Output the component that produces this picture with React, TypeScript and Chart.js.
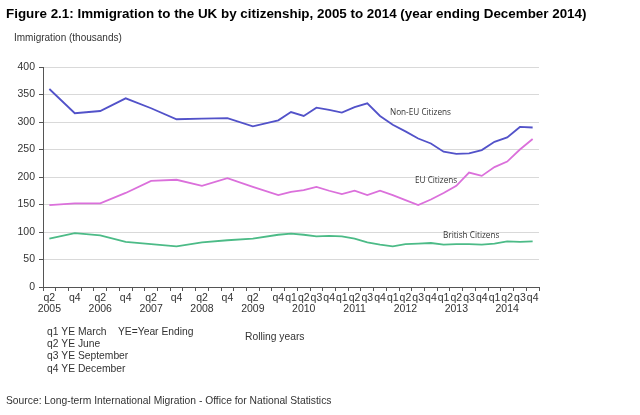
import React, { useEffect, useRef } from "react";
import { Chart, registerables } from "chart.js";

Chart.register(...registerables);

// Quarterly categories, 2005 q2 .. 2014 q4 (only q2/q4 shown before q4 2009)
const quarterLabels = [
  "q2", "", "q4", "", "q2", "", "q4", "", "q2", "", "q4", "", "q2", "", "q4", "", "q2", "", "q4",
  "q1", "q2", "q3", "q4", "q1", "q2", "q3", "q4", "q1", "q2", "q3", "q4", "q1", "q2", "q3", "q4",
  "q1", "q2", "q3", "q4",
];
const yearLabels = [
  "2005", "", "", "", "2006", "", "", "", "2007", "", "", "", "2008", "", "", "", "2009", "", "",
  "", "2010", "", "", "", "2011", "", "", "", "2012", "", "", "", "2013", "", "", "", "2014", "", "",
];

const nonEU = [
  360, null, 316, null, 320, null, 343, null, 325, null, 305, null, 306, null, 307, null, 292, null, 303,
  318, 311, 326, 322, 317, 327, 334, 311, 295, 283, 270, 261, 246, 242, 243, 249, 264, 272, 291, 290,
];
const eu = [
  149, null, 152, null, 152, null, 171, null, 193, null, 195, null, 184, null, 198, null, 182, null, 167,
  173, 176, 182, 175, 169, 175, 167, 175, 167, 158, 149, 159, 171, 184, 208, 202, 218, 228, 250, 269,
];
const british = [
  88, null, 98, null, 94, null, 82, null, 78, null, 74, null, 81, null, 85, null, 88, null, 95,
  97, 95, 92, 93, 92, 88, 81, 77, 74, 78, 79, 80, 77, 78, 78, 77, 79, 83, 82, 83,
];

const seriesNames = ["Non-EU Citizens", "EU Citizens", "British Citizens"];
const yTicks = [0, 50, 100, 150, 200, 250, 300, 350, 400];

const title = "Figure 2.1: Immigration to the UK by citizenship, 2005 to 2014 (year ending December 2014)";
const yAxisTitle = "Immigration (thousands)";
const notes = ["q1 YE March", "q2 YE June", "q3 YE September", "q4 YE December"];
const noteExtra = "YE=Year Ending";
const xAxisTitle = "Rolling years";
const source = "Source: Long-term International Migration - Office for National Statistics";

const FONT = "'Liberation Sans', Arial, sans-serif";

const textPlugin = {
  id: "texts",
  afterDraw(chart: any) {
    const ctx = chart.ctx;
    ctx.save();
    ctx.textBaseline = "middle";
    ctx.textAlign = "left";
    ctx.fillStyle = "#000";
    ctx.font = `bold 13.4px ${FONT}`;
    ctx.fillText(title, 6, 14);
    ctx.fillStyle = "#333";
    ctx.font = `10px ${FONT}`;
    ctx.fillText(yAxisTitle, 14, 38);
    ctx.font = `10.3px ${FONT}`;
    notes.forEach((n, i) => ctx.fillText(n, 47, 332 + i * 12.3));
    ctx.fillText(noteExtra, 118, 332);
    ctx.fillText(xAxisTitle, 245, 337);
    ctx.fillText(source, 6, 401);
    // series annotations
    ctx.font = `8.2px 'Open Sans', ${FONT}`;
    ctx.fillStyle = "#333";
    ctx.fillText(seriesNames[0], 390, 113);
    ctx.fillText(seriesNames[1], 415, 181);
    ctx.fillText(seriesNames[2], 443, 236);
    ctx.restore();
  },
};

export default function App() {
  const ref = useRef<HTMLCanvasElement | null>(null);
  useEffect(() => {
    if (!ref.current) return;
    const labels = quarterLabels.map((q, i) => (yearLabels[i] ? [q, yearLabels[i]] : q));
    const mk = (label: string, data: (number | null)[], color: string) => ({
      label,
      data,
      borderColor: color,
      backgroundColor: color,
      borderWidth: 1.8,
      pointRadius: 0,
      tension: 0,
      spanGaps: true,
    });
    const chart = new Chart(ref.current, {
      type: "line",
      data: {
        labels,
        datasets: [
          mk(seriesNames[0], nonEU, "#5252c9"),
          mk(seriesNames[1], eu, "#db70db"),
          mk(seriesNames[2], british, "#4cbb87"),
        ],
      },
      plugins: [textPlugin],
      options: {
        responsive: false,
        animation: false,
        layout: { padding: { left: 0, right: 101, top: 67, bottom: 98 }, autoPadding: false } as any,
        plugins: { legend: { display: false }, tooltip: { enabled: false } },
        scales: {
          x: {
            type: "category",
            offset: true,
            afterFit: (s: any) => {
              s.height = 30;
            },
            grid: {
              offset: true,
              drawOnChartArea: false,
              drawTicks: true,
              tickLength: 4,
              tickColor: "#555",
            },
            border: { display: true, color: "#555", width: 1 },
            ticks: {
              autoSkip: false,
              maxRotation: 0,
              minRotation: 0,
              padding: 1,
              color: "#333",
              font: { family: FONT, size: 10.5, lineHeight: 1.1 },
            },
          },
          y: {
            min: 0,
            max: 400,
            afterFit: (s: any) => {
              s.width = 43;
            },
            afterBuildTicks: (s: any) => {
              s.ticks = yTicks.map((v) => ({ value: v }));
            },
            grid: {
              color: "#d9d9d9",
              lineWidth: 1,
              drawTicks: true,
              tickLength: 4,
              tickColor: "#555",
            },
            border: { display: true, color: "#555", width: 1 },
            ticks: {
              padding: 4,
              color: "#333",
              font: { family: FONT, size: 10.5 },
            },
          },
        },
      },
    });
    return () => chart.destroy();
  }, []);
  return (
    <div style={{ position: "absolute", left: 0, top: 0, width: 640, height: 415, background: "#fff" }}>
      <canvas ref={ref} width={640} height={415} style={{ display: "block", width: 640, height: 415 }} />
    </div>
  );
}
